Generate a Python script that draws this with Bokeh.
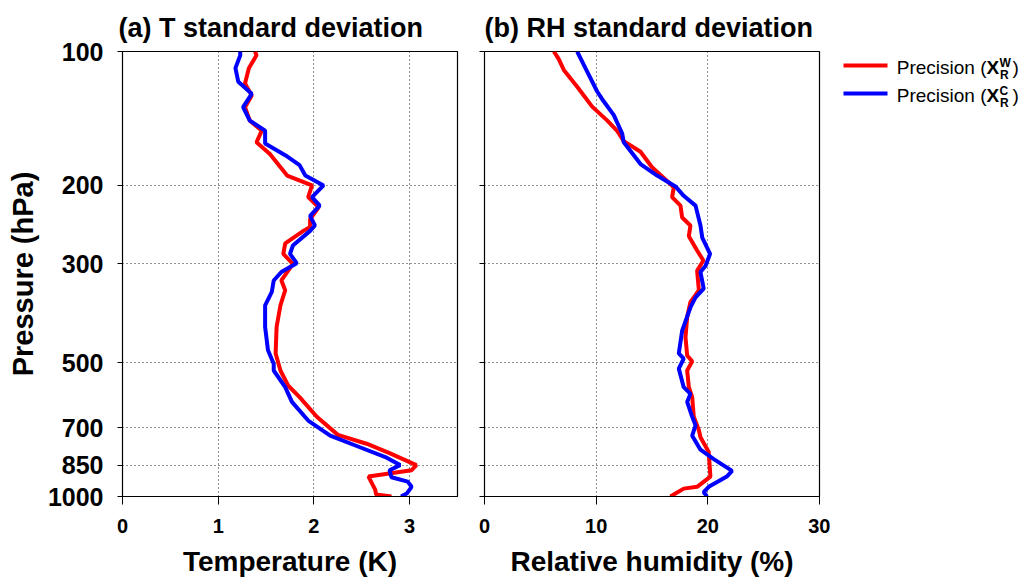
from bokeh.plotting import figure
from bokeh.layouts import row
from bokeh.models import Range1d, FixedTicker, PrintfTickFormatter, CustomJSTickFormatter, Label, BoxAnnotation
from bokeh.embed import file_html
from bokeh.resources import INLINE

# ---------------- data ----------------
# Panel (a): temperature standard deviation (K)
p_t_w = [100, 102, 109, 118, 125.6, 133.4, 143, 150.6, 160, 170, 190, 200, 212.5, 224, 238, 248,
         253, 270, 285, 300, 327, 344, 372, 416, 477, 521, 563, 598, 662, 727, 761, 799, 850, 873,
         902, 965, 990, 1000]
t_w = [1.385, 1.40, 1.32, 1.28, 1.35, 1.28, 1.33, 1.455, 1.40, 1.54, 1.72, 1.98, 1.94, 2.05, 1.96, 1.96,
       1.89, 1.70, 1.68, 1.78, 1.66, 1.70, 1.65, 1.61, 1.60, 1.65, 1.73, 1.85, 2.03, 2.25, 2.55, 2.79, 3.07, 3.02,
       2.57, 2.64, 2.65, 2.81]

p_t_c = [100, 102, 109, 117, 124.5, 133.4, 143, 150.6, 161, 171, 180, 190, 200, 212.5, 222, 234, 246,
         253, 273, 285, 299, 313, 327, 347, 372, 416, 469, 503, 521, 568, 613, 675, 730, 775, 818, 850,
         873, 905, 926, 951, 985, 1000]
t_c = [1.23, 1.23, 1.18, 1.21, 1.35, 1.26, 1.33, 1.49, 1.49, 1.70, 1.85, 1.91, 2.10, 1.98, 2.06, 1.96, 2.01,
       1.96, 1.78, 1.75, 1.82, 1.66, 1.58, 1.56, 1.49, 1.49, 1.52, 1.58, 1.58, 1.70, 1.77, 1.94, 2.17, 2.48, 2.76, 2.90,
       2.79, 2.81, 2.98, 3.02, 2.97, 2.91]

# Panel (b): relative humidity standard deviation (%)
p_rh_w = [100, 104, 110, 120, 133, 143, 151, 159, 168, 182, 197, 202, 212.5, 222, 236, 246, 260, 280,
          295, 311, 344, 366, 395, 439, 482, 497, 521, 568, 598, 662, 710, 736, 794, 902, 951, 960, 1000]
rh_w = [6.21, 6.65, 7.10, 8.30, 9.64, 11.0, 11.9, 12.47, 13.97, 15.0, 16.5, 16.95, 16.8, 17.55, 17.7, 18.44, 18.3, 19.04,
        19.6, 19.04, 19.2, 18.44, 18.15, 18.0, 18.15, 18.6, 18.15, 18.3, 18.6, 18.74, 19.2, 19.34, 20.08, 20.23, 19.04, 17.84, 16.65]

p_rh_c = [100, 109, 123, 128, 139, 153, 160, 179, 190, 201, 211, 222, 246, 262, 285, 303, 313, 341, 357,
          376, 424, 477, 490, 516, 568, 588, 613, 662, 692, 730, 785, 824, 876, 902, 951, 978, 1000]
rh_c = [8.30, 9.04, 10.09, 10.54, 11.58, 12.33, 12.47, 13.97, 15.46, 17.1, 17.84, 18.9, 19.34, 19.5, 20.2, 19.8, 19.34, 19.63, 18.9,
        18.44, 17.7, 17.4, 17.84, 17.4, 17.84, 18.44, 18.15, 18.6, 18.9, 18.6, 19.34, 20.53, 22.17, 21.7, 20.08, 19.63, 19.93]

pressure_ticks = [100, 200, 300, 500, 700, 850, 1000]
t_ticks = [0, 1, 2, 3]
rh_ticks = [0, 10, 20, 30]

titles = ["(a) T standard deviation", "(b) RH standard deviation"]
xlabels = ["Temperature (K)", "Relative humidity (%)"]
ylabel = "Pressure (hPa)"
legend_label = "Precision ("
colors = ["#ff0000", "#0000ff"]

FONT = "Liberation Sans"
TOP, BOTTOM = 51, 86


def make_panel(width, border_left, border_right, xmax, xticks, title, xlabel, show_ylabels, title_offset):
    p = figure(width=width, height=582, x_range=Range1d(0, xmax), y_range=Range1d(1000, 100),
               y_axis_type="log", output_backend="svg", toolbar_location=None,
               min_border_left=border_left, min_border_right=border_right,
               min_border_top=TOP, min_border_bottom=BOTTOM,
               background_fill_color="white", border_fill_color="white")
    p.outline_line_color = "black"
    p.outline_line_width = 1.2
    p.title.text = title
    p.title.text_font = FONT
    p.title.text_font_size = "27px"
    p.title.text_font_style = "bold"
    p.title.text_color = "black"
    p.title.align = "left"
    p.title.offset = title_offset
    p.title.standoff = 18

    xa = p.xaxis[0]
    xa.ticker = FixedTicker(ticks=xticks, minor_ticks=[])
    xa.axis_label = xlabel
    xa.axis_label_text_font = FONT
    xa.axis_label_text_font_size = "28px"
    xa.axis_label_text_font_style = "bold"
    xa.axis_label_text_color = "black"
    xa.axis_label_standoff = 10
    xa.major_label_text_font = FONT
    xa.major_label_text_font_size = "20px"
    xa.major_label_text_font_style = "bold"
    xa.major_label_text_color = "black"
    xa.major_label_standoff = 14
    xa.major_tick_out = 8
    xa.major_tick_in = 0
    xa.minor_tick_line_color = None
    xa.axis_line_color = "black"
    xa.major_tick_line_color = "black"

    ya = p.yaxis[0]
    ya.ticker = FixedTicker(ticks=pressure_ticks, minor_ticks=[])
    ya.major_tick_out = 5
    ya.major_tick_in = 0
    ya.minor_tick_line_color = None
    ya.axis_line_color = "black"
    ya.major_tick_line_color = "black"
    if show_ylabels:
        ya.formatter = PrintfTickFormatter(format="%d")
        ya.axis_label = ylabel
        ya.axis_label_text_font = FONT
        ya.axis_label_text_font_size = "29px"
        ya.axis_label_text_font_style = "bold"
        ya.axis_label_text_color = "black"
        ya.axis_label_standoff = 6
        ya.major_label_text_font = FONT
        ya.major_label_text_font_size = "25px"
        ya.major_label_text_font_style = "bold"
        ya.major_label_text_color = "black"
        ya.major_label_standoff = 14
    else:
        ya.formatter = CustomJSTickFormatter(code="return ''")
        ya.major_label_standoff = 0

    p.xgrid.ticker = FixedTicker(ticks=xticks[1:])
    p.ygrid.ticker = FixedTicker(ticks=pressure_ticks[1:-1])
    for g in (p.xgrid[0], p.ygrid[0]):
        g.grid_line_color = "#222222"
        g.grid_line_dash = "1 3"
        g.grid_line_width = 1
    return p


fa = make_panel(470, 122, 13, 3.5, t_ticks, titles[0], xlabels[0], True, -4)
fa.line(t_w, p_t_w, line_color=colors[0], line_width=4)
fa.line(t_c, p_t_c, line_color=colors[1], line_width=4)

fb = make_panel(360, 14, 11, 30, rh_ticks, titles[1], xlabels[1], False, 0)
fb.line(rh_w, p_rh_w, line_color=colors[0], line_width=4)
fb.line(rh_c, p_rh_c, line_color=colors[1], line_width=4)

# ---------------- legend panel (frame aligned with the plot frames) ----------------
fl = figure(width=195, height=582, x_range=Range1d(830, 1025), y_range=Range1d(582 - BOTTOM, TOP),
            output_backend="svg", toolbar_location=None,
            x_axis_location=None, y_axis_location=None,
            min_border_left=0, min_border_right=0, min_border_top=TOP, min_border_bottom=BOTTOM)
fl.grid.visible = False
fl.outline_line_color = None

sups = ["W", "C"]
for i, (col, sup) in enumerate(zip(colors, sups)):
    yc = 65 + 28 * i
    fl.add_layout(BoxAnnotation(left=843, right=887, top=yc - 2, bottom=yc + 2,
                                fill_color=col, fill_alpha=1, line_color=None))
    fl.add_layout(Label(x=986, y=yc + 2, text=legend_label, text_align="right", text_baseline="middle",
                        text_font=FONT, text_font_size="19px", text_color="black"))
    fl.add_layout(Label(x=986, y=yc + 2, text="X", text_align="left", text_baseline="middle",
                        text_font=FONT, text_font_size="19px", text_font_style="bold", text_color="black"))
    fl.add_layout(Label(x=999, y=yc - 3, text=sup, text_align="left", text_baseline="middle",
                        text_font=FONT, text_font_size="12px", text_font_style="bold", text_color="black"))
    fl.add_layout(Label(x=999.5, y=yc + 9, text="R", text_align="left", text_baseline="middle",
                        text_font=FONT, text_font_size="12px", text_font_style="bold", text_color="black"))
    fl.add_layout(Label(x=1012, y=yc + 2, text=")", text_align="left", text_baseline="middle",
                        text_font=FONT, text_font_size="19px", text_color="black"))

layout = row(fa, fb, fl)
open("out.html", "w").write(file_html(layout, INLINE))
